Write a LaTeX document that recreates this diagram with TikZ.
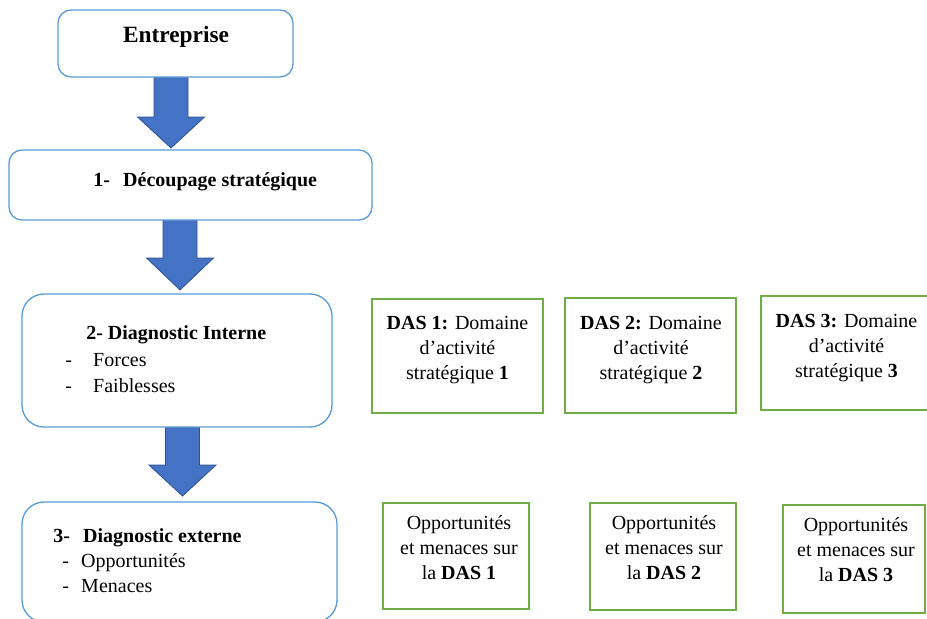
\documentclass[tikz,border=0pt]{standalone}
\usepackage{fontspec}
\setmainfont{Liberation Serif}
\definecolor{boxblue}{HTML}{5B9BD5}
\definecolor{arrowfill}{HTML}{4472C4}
\definecolor{arrowline}{HTML}{2F528F}
\definecolor{dasgreen}{HTML}{70AD47}
\tikzset{
  stage/.style={draw=boxblue, line width=1pt, fill=white, rounded corners=9.75pt, inner sep=0pt},
  stagebig/.style={stage, rounded corners=16.5pt},
  dasbox/.style={draw=dasgreen, line width=1.1pt, fill=white, inner sep=0pt},
  txt/.style={inner sep=0pt, font=\fontsize{15}{18.75}\selectfont},
  blockarrow/.style={fill=arrowfill, draw=arrowline, line width=0.6pt}
}
\newcommand\blockarr[4]{%
  \draw[blockarrow] ({#1-17},#2) -- ({#1+17},#2) -- ({#1+17},#3) -- ({#1+33.5},#3)
    -- (#1,#4) -- ({#1-33.5},#3) -- ({#1-17},#3) -- cycle;}
\begin{document}
\begin{tikzpicture}[x=0.75pt,y=-0.75pt]
\useasboundingbox (0,0) rectangle (927,618);
\clip (0,0) rectangle (927,618);
% block arrows
\blockarr{171}{77}{117}{148}
\blockarr{180}{220}{258}{290}
\blockarr{182.5}{427}{465}{496}
% stage boxes
\node[stage, minimum width=176.25pt, minimum height=50.25pt] (ent) at (175.5,43.5) {};
\node[stage, minimum width=272.25pt, minimum height=52.5pt] (decoup) at (190.5,185) {};
\node[stagebig, minimum width=232.5pt, minimum height=99.75pt] (interne) at (177,360.5) {};
\node[stagebig, minimum width=236.25pt, minimum height=90pt] (externe) at (179.5,562) {};
% DAS boxes
\node[dasbox, minimum width=128.25pt, minimum height=85.5pt] (das1) at (457.5,356) {};
\node[dasbox, minimum width=128.25pt, minimum height=86.25pt] (das2) at (650.5,355.5) {};
\node[dasbox, minimum width=128.25pt, minimum height=85.5pt] (das3) at (846.5,353) {};
\node[dasbox, minimum width=109.5pt, minimum height=79.5pt] (opp1) at (456,556) {};
\node[dasbox, minimum width=109.5pt, minimum height=80.25pt] (opp2) at (663,556.5) {};
\node[dasbox, minimum width=106.5pt, minimum height=81pt] (opp3) at (854,559) {};
% texts
\node[txt, anchor=base, font=\fontsize{17.5}{21}\selectfont\bfseries] (entT) at (176,42) {Entreprise};
\node[txt, anchor=base west, font=\fontsize{15}{18.75}\selectfont\bfseries] (decoupT) at (93,186) {\makebox[22.5pt][l]{1-}Découpage stratégique};
\node[txt, anchor=base west, font=\fontsize{15}{18.75}\selectfont\bfseries] (interneT) at (86,339) {2- Diagnostic Interne};
\node[txt, anchor=base west] (forces) at (65,366) {\makebox[21pt][l]{-}Forces};
\node[txt, anchor=base west] (faibl) at (65,392) {\makebox[21pt][l]{-}Faiblesses};
\node[txt, anchor=base west, font=\fontsize{15}{18.75}\selectfont\bfseries] (externeT) at (53,542) {\makebox[22.5pt][l]{3-}Diagnostic externe};
\node[txt, anchor=base west] (opps) at (62,567) {\makebox[14.25pt][l]{-}Opportunités};
\node[txt, anchor=base west] (menaces) at (62,592) {\makebox[14.25pt][l]{-}Menaces};
\node[txt, align=center, anchor=base] (das1T) at (457.5,379) {\textbf{DAS 1:} Domaine\\d’activité\\stratégique \textbf{1}};
\node[txt, align=center, anchor=base] (das2T) at (651,379) {\textbf{DAS 2:} Domaine\\d’activité\\stratégique \textbf{2}};
\node[txt, align=center, anchor=base] (das3T) at (846.5,377) {\textbf{DAS 3:} Domaine\\d’activité\\stratégique \textbf{3}};
\node[txt, align=center, anchor=base] (opp1T) at (459,579) {Opportunités\\et menaces sur\\la \textbf{DAS 1}};
\node[txt, align=center, anchor=base] (opp2T) at (664,579) {Opportunités\\et menaces sur\\la \textbf{DAS 2}};
\node[txt, align=center, anchor=base] (opp3T) at (856,581) {Opportunités\\et menaces sur\\la \textbf{DAS 3}};
\end{tikzpicture}
\end{document}
